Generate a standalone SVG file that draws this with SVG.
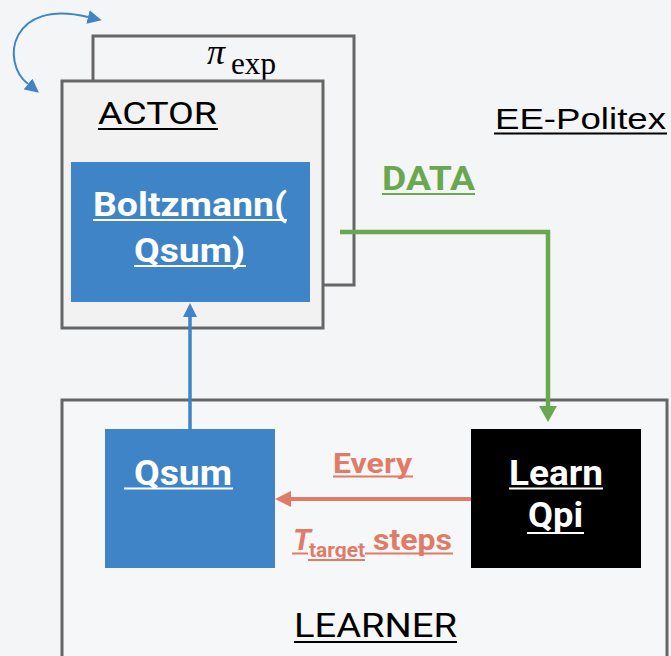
<svg xmlns="http://www.w3.org/2000/svg" width="671" height="656" viewBox="0 0 671 656">
  <style>
    .frame { stroke: #666666; stroke-width: 3; }
    .lbl { font-family: Roboto, "Liberation Sans", sans-serif; }
    .white { fill: #ffffff; font-weight: bold; }
    .blue { fill: #3e84c7; }
    .ul { stroke-width: 2; }
  </style>
  <defs>
    <marker id="headBlue" viewBox="0 0 14 14" refX="0" refY="7" markerWidth="14" markerHeight="14" markerUnits="userSpaceOnUse" orient="auto-start-reverse">
      <path d="M0,0 L14,7 L0,14 Z" fill="#3e84c7"/>
    </marker>
    <marker id="headGreen" viewBox="0 0 16 18" refX="0" refY="9" markerWidth="16" markerHeight="18" markerUnits="userSpaceOnUse" orient="auto">
      <path d="M0,0 L16,9 L0,18 Z" fill="#6aa84f"/>
    </marker>
    <marker id="headOrange" viewBox="0 0 16 16" refX="0" refY="8" markerWidth="16" markerHeight="16" markerUnits="userSpaceOnUse" orient="auto">
      <path d="M0,0 L16,8 L0,16 Z" fill="#df7b67"/>
    </marker>
  </defs>

  <rect width="671" height="656" fill="#f4f5f7"/>

  <!-- exploration policy stack (back copy) -->
  <g id="pi-exp">
    <rect class="frame" x="93" y="36" width="261" height="249" fill="#f4f5f7"/>
    <text x="207" y="64" font-family="'Liberation Serif', 'DejaVu Serif', serif" font-size="36" font-style="italic" fill="#000">π<tspan font-style="normal" font-size="31" x="231" dy="10" textLength="45" lengthAdjust="spacingAndGlyphs">exp</tspan></text>
  </g>

  <!-- actor -->
  <g id="actor">
    <rect class="frame" x="62" y="81" width="261" height="247" fill="#f2f2f2"/>
    <text class="lbl" x="98" y="124" font-size="32" textLength="119" lengthAdjust="spacingAndGlyphs" fill="#000">ACTOR</text>
    <line class="ul" x1="98" y1="129" x2="218" y2="129" stroke="#000"/>
  </g>

  <g id="boltzmann">
    <rect class="blue" x="71" y="162" width="239" height="140"/>
    <text class="lbl white" x="93" y="216" font-size="34" textLength="194" lengthAdjust="spacingAndGlyphs">Boltzmann(</text>
    <line class="ul" x1="93" y1="220" x2="287" y2="220" stroke="#fff"/>
    <text class="lbl white" x="134" y="262" font-size="34" textLength="111" lengthAdjust="spacingAndGlyphs">Qsum)</text>
    <line class="ul" x1="134" y1="266" x2="246" y2="266" stroke="#fff"/>
  </g>

  <g id="ee-politex">
    <text x="495" y="129" font-family="'Liberation Sans', Arial, sans-serif" font-size="30" textLength="171" lengthAdjust="spacingAndGlyphs" fill="#000">EE-Politex</text>
    <line class="ul" x1="494" y1="133.5" x2="667" y2="133.5" stroke="#000"/>
  </g>

  <!-- learner -->
  <g id="learner">
    <rect class="frame" x="62" y="400" width="605" height="270" fill="#f6f7f9"/>
    <text class="lbl" x="294" y="637" font-size="34" textLength="163" lengthAdjust="spacingAndGlyphs" fill="#000">LEARNER</text>
    <line class="ul" x1="294" y1="642" x2="457" y2="642" stroke="#000"/>
  </g>

  <g id="qsum">
    <rect class="blue" x="105" y="429" width="170" height="139"/>
    <text class="lbl white" x="134" y="485" font-size="35" textLength="98" lengthAdjust="spacingAndGlyphs">Qsum</text>
    <line class="ul" x1="124" y1="488.5" x2="233" y2="488.5" stroke="#fff"/>
  </g>

  <g id="learn-qpi">
    <rect x="471" y="429" width="170" height="139" fill="#000"/>
    <text class="lbl white" x="509" y="485" font-size="35" textLength="94" lengthAdjust="spacingAndGlyphs">Learn</text>
    <line class="ul" x1="509" y1="488.5" x2="603" y2="488.5" stroke="#fff"/>
    <text class="lbl white" x="528" y="527" font-size="35" textLength="55" lengthAdjust="spacingAndGlyphs">Qpi</text>
    <line class="ul" x1="527" y1="533" x2="584" y2="533" stroke="#fff"/>
  </g>

  <!-- connectors -->
  <g id="connectors" fill="none">
    <path d="M28,84 C0,62 10,-2 88,17" stroke="#3e84c7" stroke-width="2" marker-start="url(#headBlue)" marker-end="url(#headBlue)"/>
    <path d="M190,429 V317" stroke="#3e84c7" stroke-width="3.5" marker-end="url(#headBlue)"/>
    <path d="M340,232 H548 V406" stroke="#6aa84f" stroke-width="4.5" marker-end="url(#headGreen)"/>
    <path d="M471,499 H291" stroke="#df7b67" stroke-width="4" marker-end="url(#headOrange)"/>

    <text class="lbl" x="382" y="190" font-size="34" font-weight="bold" textLength="93" lengthAdjust="spacingAndGlyphs" fill="#6aa84f">DATA</text>
    <line class="ul" x1="382" y1="194" x2="475" y2="194" stroke="#6aa84f"/>

    <text class="lbl" x="333" y="473" font-size="28" font-weight="bold" textLength="79" lengthAdjust="spacingAndGlyphs" fill="#df7b67">Every</text>
    <line class="ul" x1="333" y1="476.5" x2="413" y2="476.5" stroke="#df7b67"/>

    <text class="lbl" x="293" y="550" font-size="30" font-weight="bold" fill="#df7b67"><tspan font-style="italic">T</tspan><tspan font-size="20" x="309" dy="7" textLength="56" lengthAdjust="spacingAndGlyphs">target</tspan><tspan dy="-7" x="373" textLength="79" lengthAdjust="spacingAndGlyphs">steps</tspan></text>
    <path class="ul" d="M292,553.5 H308 M308,560 H365 M365,553.5 H453" stroke="#df7b67"/>
  </g>
</svg>
